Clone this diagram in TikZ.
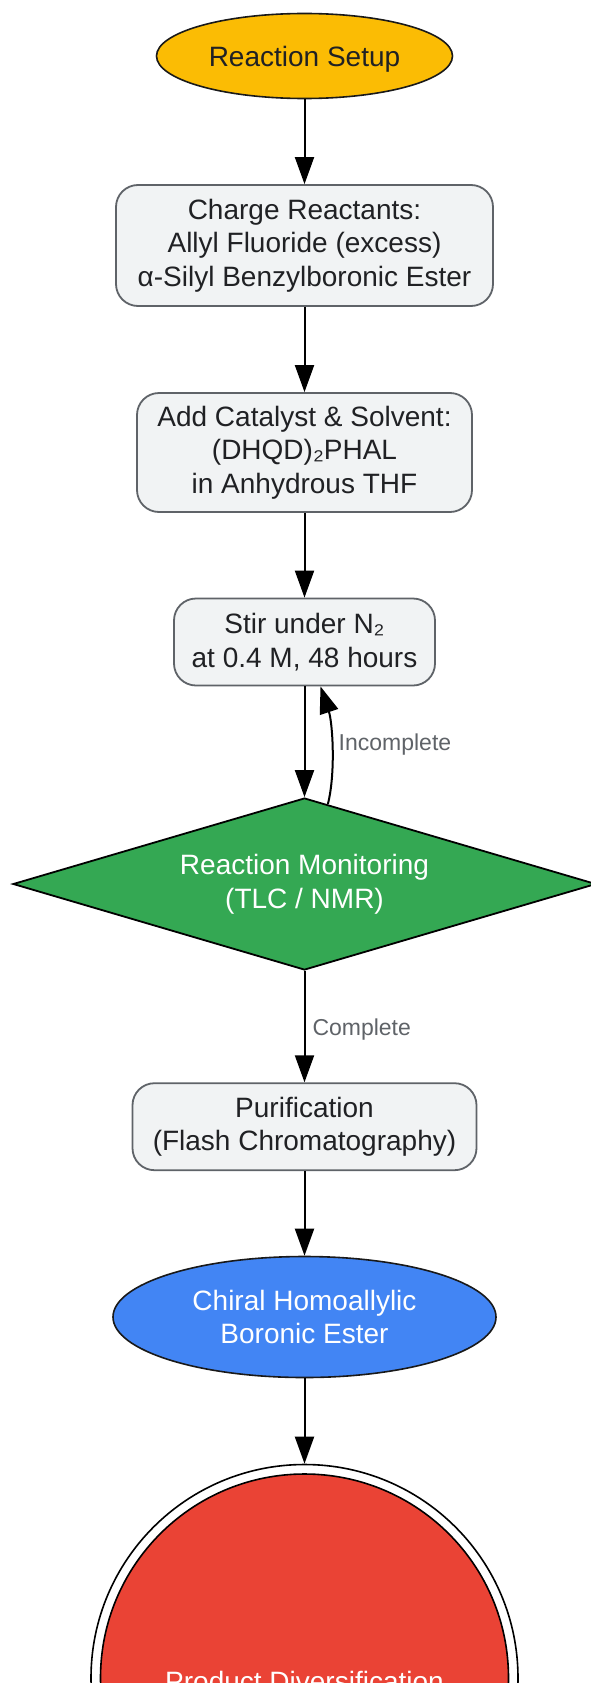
\documentclass[tikz,border=0pt]{standalone}
\usepackage{fontspec}
\setmainfont{Liberation Sans}
\usetikzlibrary{shapes.geometric,arrows.meta,calc}
\definecolor{gyellow}{HTML}{FBBC04}
\definecolor{ggreen}{HTML}{34A853}
\definecolor{gblue}{HTML}{4285F4}
\definecolor{gred}{HTML}{EA4335}
\definecolor{boxfill}{HTML}{F1F3F4}
\definecolor{boxline}{HTML}{5F6368}
\definecolor{boxtext}{HTML}{202124}
\definecolor{lblgray}{HTML}{5F6368}
\begin{document}
\begin{tikzpicture}[x=1pt,y=-1pt,
  mainfont/.style={font=\fontsize{28}{33.6}\selectfont, execute at begin node={\rule{0pt}{27pt}}},
  stepbox/.style={draw=boxline, fill=boxfill, line width=1.8pt, rounded corners=22pt,
    text=boxtext, align=center, inner sep=0pt, mainfont},
  oval/.style={ellipse, draw=black!90, line width=1.6pt, align=center, inner sep=0pt, mainfont},
  decide/.style={diamond, draw=black, line width=1.8pt, fill=ggreen, text=white,
    align=center, inner sep=0pt, mainfont},
  arr/.style={draw=black, line width=2pt, -{Triangle[length=27pt,width=19pt]}},
  elabel/.style={font=\fontsize{23}{27}\selectfont, text=lblgray, inner sep=0pt}]
\useasboundingbox (0,0) rectangle (591,1683);
\clip (0,0) rectangle (591,1683);
\fill[white] (0,0) rectangle (591,1683);

\node[oval, fill=gyellow, text=boxtext, minimum width=296pt, minimum height=85pt] (setup) at (304.5,56) {Reaction Setup};
\node[stepbox, minimum width=377pt, minimum height=121pt] (charge) at (304.5,245.5)
  {Charge Reactants:\\Allyl Fluoride (excess)\\α-Silyl Benzylboronic Ester};
\node[stepbox, minimum width=335pt, minimum height=119pt] (cat) at (304.5,452.5)
  {Add Catalyst \& Solvent:\\(DHQD)₂PHAL\\in Anhydrous THF};
\node[stepbox, minimum width=261pt, minimum height=87pt] (stir) at (304.5,642)
  {Stir under N₂\\at 0.4 M, 48 hours};
\node[decide, minimum width=583pt, minimum height=172pt, shape aspect=3.39] (mon) at (304.5,884)
  {Reaction Monitoring\\(TLC / NMR)};
\node[stepbox, minimum width=344pt, minimum height=87pt] (pur) at (304.5,1126.7)
  {Purification\\(Flash Chromatography)};
\node[oval, fill=gblue, text=white, minimum width=383pt, minimum height=121pt] (chiral) at (304.5,1317)
  {Chiral Homoallylic\\Boronic Ester};
\node[circle, draw=black, line width=1.6pt, fill=white, minimum size=427pt, inner sep=0pt] (prod) at (304.5,1678) {};
\node[circle, draw=black, line width=1.6pt, fill=gred, text=white, minimum size=408pt, inner sep=0pt, mainfont] (prodin) at (prod.center) {Product Diversification};

\draw[arr] (setup) -- (charge);
\draw[arr] (charge) -- (cat);
\draw[arr] (cat) -- (stir);
\draw[arr] (stir) -- (mon.north);
\coordinate (loopstart) at ($(mon.north)!0.08!(mon.east)$);
\coordinate (loopend) at ($(stir.south)+(16,0)$);
\draw[arr] (loopstart) .. controls ($(loopstart)+(8,-32)$) and ($(loopend)+(12,36)$) .. (loopend)
  node[pos=0.5, anchor=west, xshift=6pt, yshift=2pt, elabel] {Incomplete};
\draw[arr] (mon.south) -- node[anchor=west, xshift=7pt, yshift=-3pt, elabel] {Complete} (pur);
\draw[arr] (pur) -- (chiral);
\draw[arr] (chiral) -- (prod);
\end{tikzpicture}
\end{document}
